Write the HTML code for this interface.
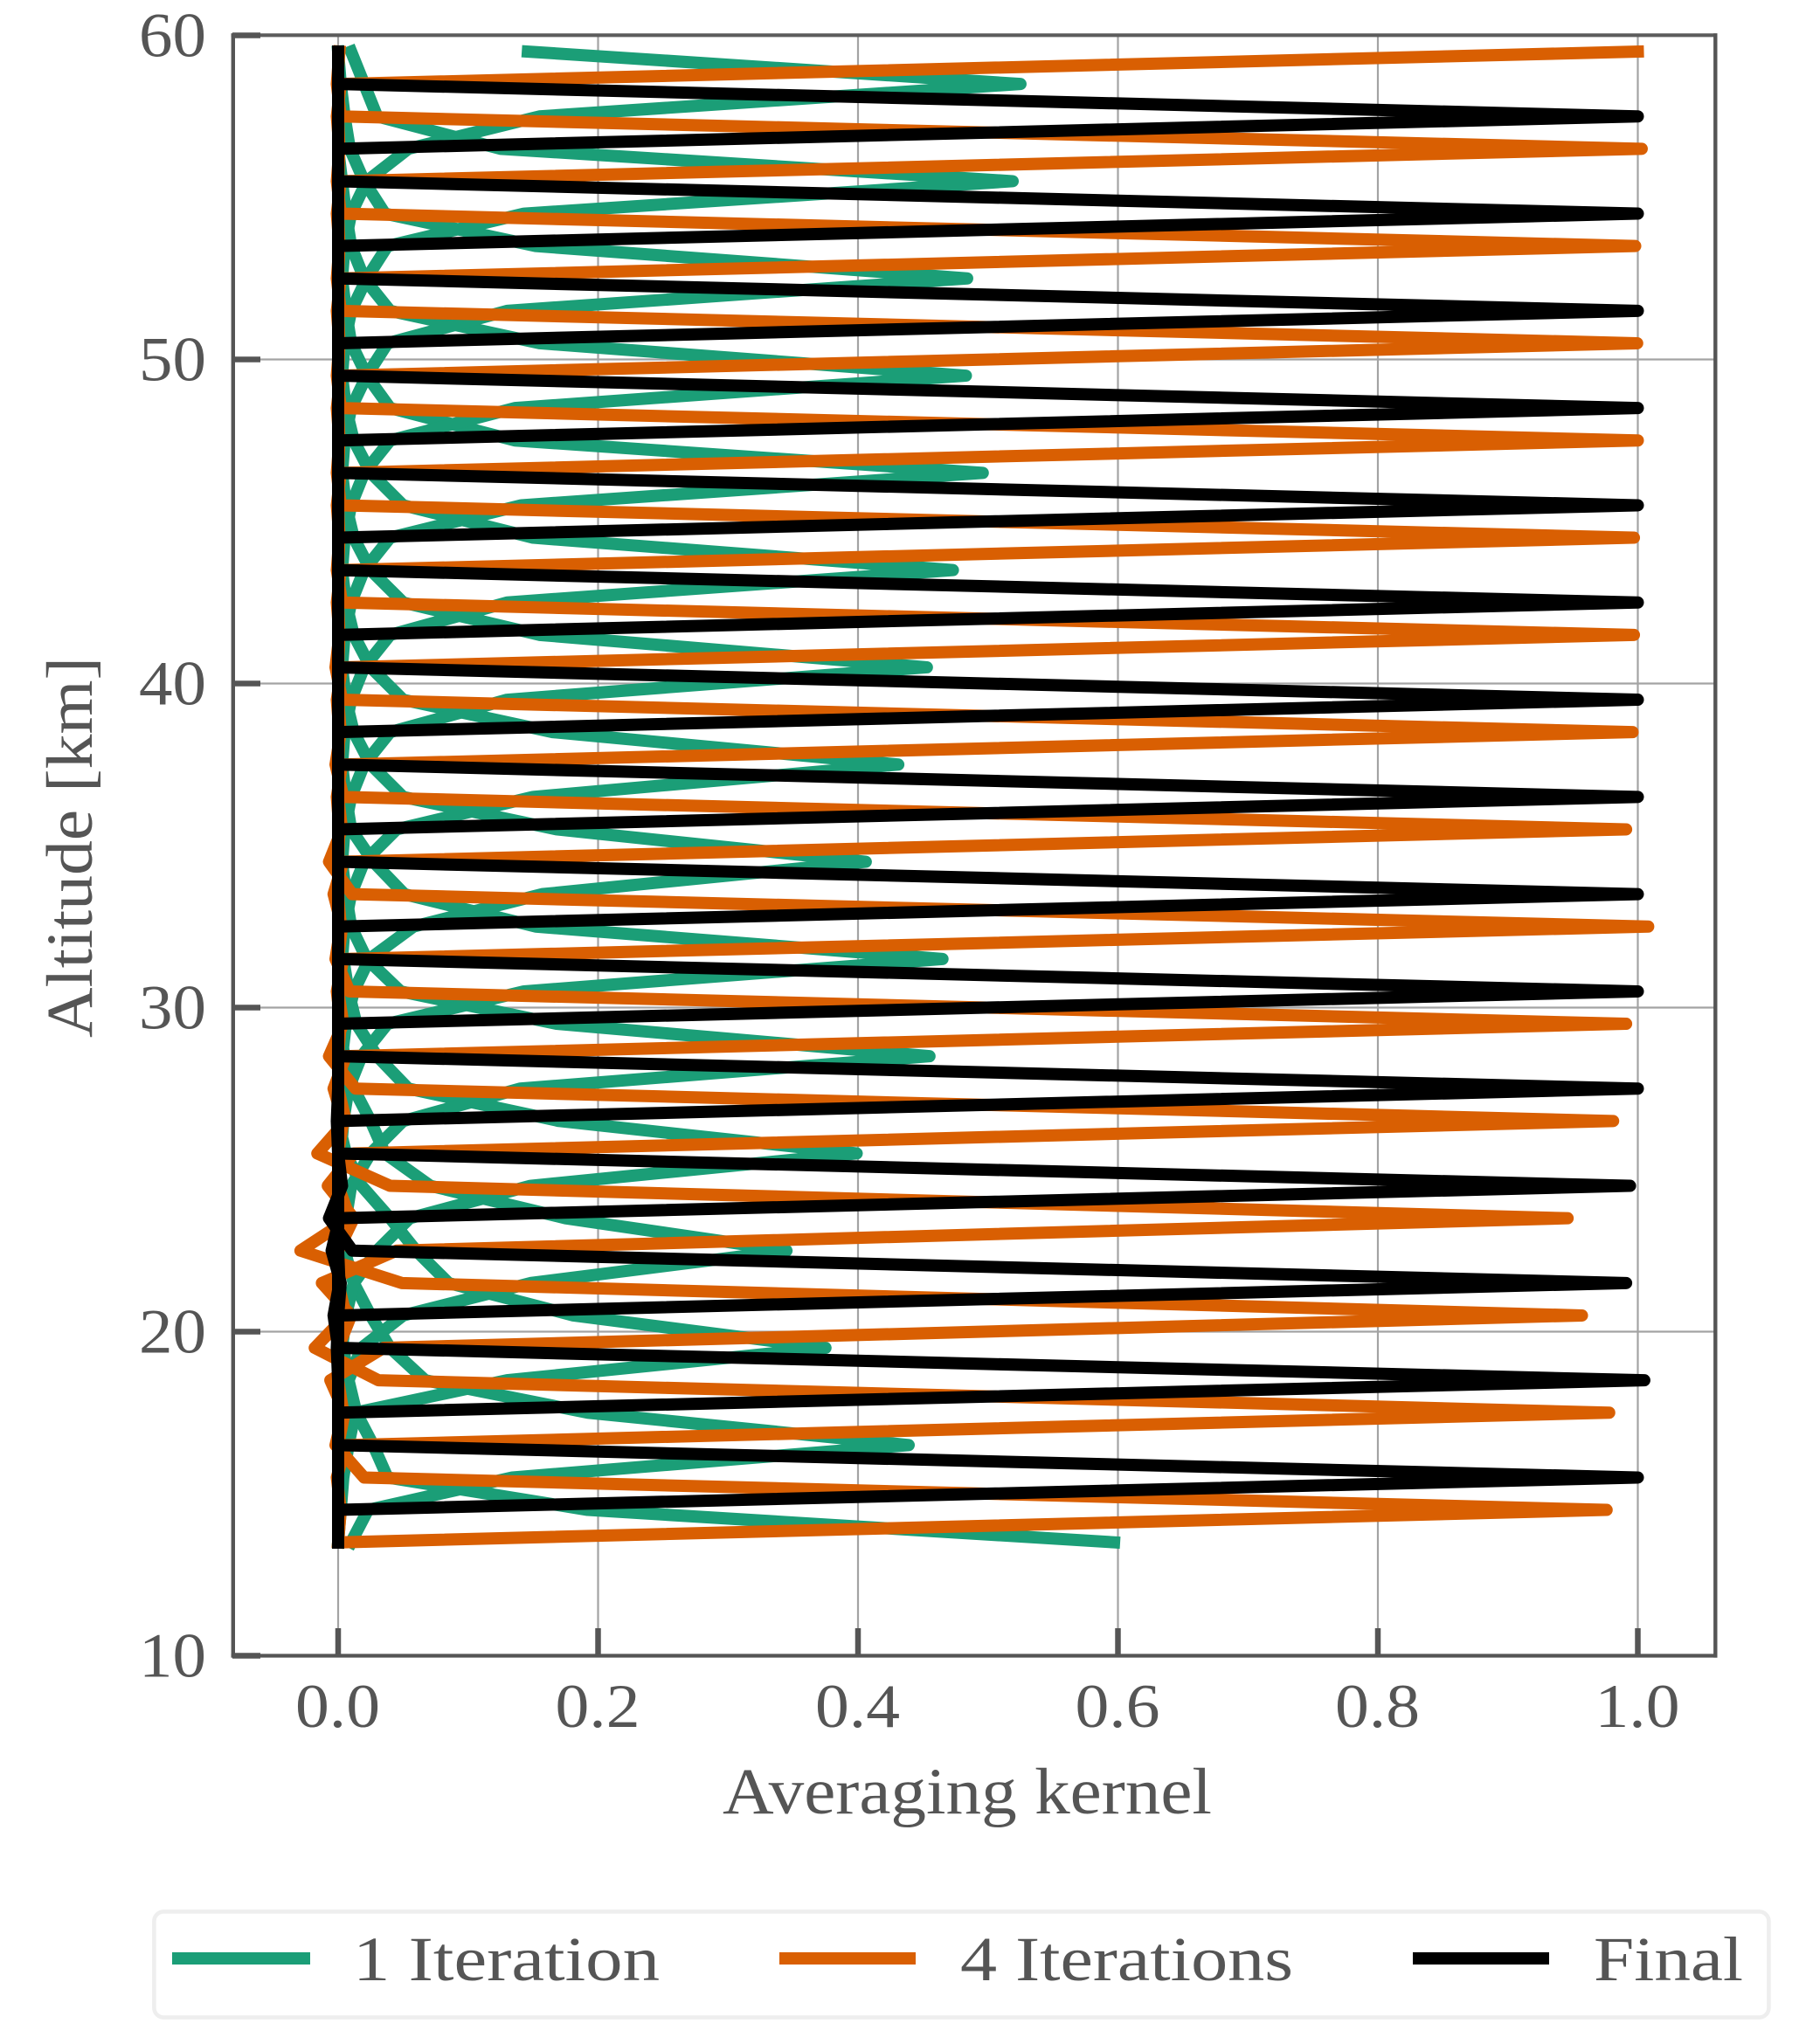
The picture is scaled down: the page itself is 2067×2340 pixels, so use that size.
<!DOCTYPE html>
<html lang="en">
<head>
<meta charset="utf-8">
<title>Averaging kernels</title>
<style>
  html, body { margin: 0; padding: 0; background: #fff; }
  svg { display: block; }
  text { font-family: "Liberation Serif", serif; fill: #555555; }
</style>
</head>
<body>
<svg id="chart" xmlns="http://www.w3.org/2000/svg" width="2067" height="2340" viewBox="0 0 2067 2340">
  <rect x="0" y="0" width="2067" height="2340" fill="#ffffff"/>
  <g id="grid"></g>
  <g id="series"></g>
  <g id="spines">
    <line x1="264.6" y1="40.3" x2="1965.5" y2="40.3" stroke="#5c5c5c" stroke-width="4.2"/>
    <line x1="1963.3" y1="38.2" x2="1963.3" y2="1897.6" stroke="#555555" stroke-width="4.4"/>
    <line x1="264.6" y1="1895.5" x2="1965.5" y2="1895.5" stroke="#555555" stroke-width="4.2"/>
    <line x1="266.8" y1="38.2" x2="266.8" y2="1897.6" stroke="#555555" stroke-width="4.4"/>
  </g>
  <g id="ticks"></g>
  <g id="tick-labels"></g>
  <text x="827" y="2076" font-size="75" textLength="560" lengthAdjust="spacingAndGlyphs">Averaging kernel</text>
  <text transform="translate(105,1188) rotate(-90)" x="0" y="0" font-size="75" textLength="436" lengthAdjust="spacingAndGlyphs">Altitude [km]</text>
  <g>
    <rect x="176.4" y="2188.4" width="1848" height="121.2" rx="11" ry="11" fill="#ffffff" stroke="#eeeeee" stroke-width="4.6"/>
    <g>
      <rect x="197" y="2235" width="158" height="14" fill="#1b9e77"/>
      <text x="404" y="2267" font-size="72" textLength="351" lengthAdjust="spacingAndGlyphs">1 Iteration</text>
    </g>
    <g>
      <rect x="892" y="2235" width="156" height="14" fill="#d95f02"/>
      <text x="1099" y="2267" font-size="72" textLength="381" lengthAdjust="spacingAndGlyphs">4 Iterations</text>
    </g>
    <g>
      <rect x="1617" y="2235" width="156" height="14" fill="#000000"/>
      <text x="1824" y="2267" font-size="72" textLength="171" lengthAdjust="spacingAndGlyphs">Final</text>
    </g>
  </g>
</svg>
<script>
// Axis tick labels
const xTickValues = [0.0, 0.2, 0.4, 0.6, 0.8, 1.0];
const xTickLabels = ["0.0", "0.2", "0.4", "0.6", "0.8", "1.0"];
const yTickValues = [10, 20, 30, 40, 50, 60];
const yTickLabels = ["10", "20", "30", "40", "50", "60"];

// Altitude grid of every kernel [km]
const altitudes = [13.5,14.5,15.5,16.5,17.5,18.5,19.5,20.5,21.5,22.5,23.5,24.5,25.5,26.5,27.5,28.5,29.5,30.5,31.5,32.5,33.5,34.5,35.5,36.5,37.5,38.5,39.5,40.5,41.5,42.5,43.5,44.5,45.5,46.5,47.5,48.5,49.5,50.5,51.5,52.5,53.5,54.5,55.5,56.5,57.5,58.5,59.5];

// 1 iteration: peak altitude of each kernel and values from peak-6 km to peak+6 km
const iter1Peaks = [13.5,16.5,19.5,22.5,25.5,28.5,31.5,34.5,37.5,40.5,43.5,46.5,49.5,52.5,55.5,58.5];
const iter1Values = [
  [0,0,0,0,0,0,0.597,0.192,0.038,0.027,0.014,0.008,0.004],
  [0,0,0,0.01,0.023,0.134,0.439,0.192,0.067,0.04,0.025,0.012,0.005],
  [0,0.002,0.004,0.008,0.013,0.13,0.375,0.181,0.085,0.06,0.04,0.018,0.006],
  [0.003,0.005,0.008,0.018,0.05,0.148,0.345,0.175,0.071,0.036,0.025,0.012,0.005],
  [0.003,0.006,0.012,0.03,0.055,0.148,0.399,0.17,0.054,0.03,0.014,0.008,0.004],
  [0.003,0.006,0.01,0.025,0.05,0.14,0.455,0.168,0.048,0.022,0.01,0.006,0.003],
  [0.002,0.004,0.008,0.018,0.038,0.143,0.465,0.152,0.051,0.027,0.01,0.006,0.003],
  [0.003,0.006,0.012,0.024,0.058,0.157,0.406,0.168,0.05,0.025,0.012,0.006,0.003],
  [0.003,0.005,0.01,0.02,0.045,0.15,0.431,0.165,0.05,0.025,0.012,0.006,0.003],
  [0.003,0.005,0.01,0.02,0.04,0.13,0.453,0.155,0.05,0.025,0.012,0.006,0.003],
  [0.003,0.005,0.01,0.02,0.04,0.13,0.473,0.15,0.05,0.025,0.012,0.006,0.003],
  [0.003,0.005,0.01,0.02,0.04,0.141,0.496,0.136,0.04,0.022,0.01,0.006,0.003],
  [0.003,0.005,0.01,0.02,0.04,0.136,0.483,0.155,0.04,0.02,0.01,0.006,0.003],
  [0.003,0.005,0.01,0.022,0.038,0.13,0.484,0.152,0.036,0.02,0.009,0.005,0.002],
  [0.003,0.005,0.01,0.022,0.038,0.143,0.519,0.125,0.03,0.02,0.01,0,0],
  [0.003,0.005,0.01,0.022,0.054,0.155,0.525,0.146,0,0,0,0,0]
];

// 4 iterations: peak altitude of each kernel and values from peak-3 km to peak+3 km
const iter4Peaks = [14.5,17.5,20.5,23.5,26.5,29.5,32.5,35.5,38.5,41.5,44.5,47.5,50.5,53.5,56.5,59.5];
const iter4Values = [
  [0,0,0.003,0.976,0.02,-0.002,0.004],
  [0.002,-0.001,0.006,0.978,0.031,-0.018,0.006],
  [0.005,-0.006,0.035,0.957,0.049,-0.029,0.009],
  [0.01,-0.0125,0.045,0.946,0.04,-0.016,0.006],
  [0.012,-0.008,0.012,0.981,0.0134,-0.007,0.004],
  [0.004,-0.0035,0.006,0.991,0.0087,-0.002,0.002],
  [0.002,-0.001,0.004,1.008,0.0108,-0.007,0.003],
  [0.003,-0.0035,0.004,0.991,0.004,-0.002,0.002],
  [0.001,-0.001,0.003,0.996,0.003,-0.002,0.001],
  [0.001,-0.001,0.003,0.997,0.003,-0.001,0.001],
  [0.001,-0.001,0.002,0.997,0.002,-0.001,0.001],
  [0.001,-0.001,0.002,1.0,0.002,-0.001,0.001],
  [0.001,-0.001,0.002,0.9995,0.002,-0.001,0.001],
  [0.001,-0.001,0.002,0.998,0.002,-0.001,0.001],
  [0.001,-0.001,0.002,1.003,0.002,-0.001,0.001],
  [0.001,-0.001,0.002,1.0,0,0,0]
];

// Final: peak altitude of each kernel and values from peak-3 km to peak+3 km
const finalPeaks = [15.5,18.5,21.5,24.5,27.5,30.5,33.5,36.5,39.5,42.5,45.5,48.5,51.5,54.5,57.5];
const finalValues = [
  [0,0,0,1.0,0,0,0],
  [0,0,0,1.005,0,-0.0035,0.001],
  [0,-0.001,0,0.991,0.011,-0.007,0.003],
  [0.002,-0.005,0.001,0.994,0,-0.001,0],
  [0,0,0,1.0,0,0,0],
  [0,0,0,1.0,0,0,0],
  [0,0,0,1.0,0,0,0],
  [0,0,0,1.0,0,0,0],
  [0,0,0,1.0,0,0,0],
  [0,0,0,1.0,0,0,0],
  [0,0,0,1.0,0,0,0],
  [0,0,0,1.0,0,0,0],
  [0,0,0,1.0,0,0,0],
  [0,0,0,1.0,0,0,0],
  [0,0,0,1.0,0,0,0]
];

const NS = "http://www.w3.org/2000/svg";
function xScale(v) { return 387 + (v * 1487.5); }
function yScale(a) { return 1895.5 - ((a - 10) * 37.1); }

function profile(peak, values) {
  const half = (values.length - 1) / 2;
  return altitudes.map(function (alt) {
    const idx = Math.round(alt - peak) + half;
    const v = (idx >= 0 && idx < values.length) ? values[idx] : 0;
    return xScale(v).toFixed(2) + "," + yScale(alt).toFixed(2);
  }).join(" ");
}

function drawSeries(peaks, values, color, label) {
  const holder = document.getElementById("series");
  peaks.forEach(function (peak, i) {
    const line = document.createElementNS(NS, "polyline");
    line.setAttribute("points", profile(peak, values[i]));
    line.setAttribute("fill", "none");
    line.setAttribute("stroke", color);
    line.setAttribute("stroke-width", "14");
    line.setAttribute("stroke-linejoin", "round");
    line.setAttribute("stroke-linecap", "square");
    
    
    holder.appendChild(line);
  });
}

function drawAxes() {
  const grid = document.getElementById("grid");
  const ticks = document.getElementById("ticks");
  const labels = document.getElementById("tick-labels");

  xTickValues.forEach(function (v, i) {
    const px = xScale(v);
    const g = document.createElementNS(NS, "line");
    g.setAttribute("x1", px); g.setAttribute("x2", px);
    g.setAttribute("y1", 40); g.setAttribute("y2", 1896);
    g.setAttribute("stroke", "#a3a3a3"); g.setAttribute("stroke-width", "2.2");
    
    
    grid.appendChild(g);

    const t = document.createElementNS(NS, "line");
    t.setAttribute("x1", px); t.setAttribute("x2", px);
    t.setAttribute("y1", 1864); t.setAttribute("y2", 1896);
    t.setAttribute("stroke", "#555555"); t.setAttribute("stroke-width", "6.5");
    
    
    ticks.appendChild(t);

    const l = document.createElementNS(NS, "text");
    l.setAttribute("x", px - 0.5); l.setAttribute("y", 1977);
    l.setAttribute("text-anchor", "middle");
    l.setAttribute("font-size", "71");
    l.setAttribute("textLength", "97");
    l.setAttribute("lengthAdjust", "spacingAndGlyphs");
    l.textContent = xTickLabels[i];
    
    
    labels.appendChild(l);
  });

  yTickValues.forEach(function (a, i) {
    const py = yScale(a);
    const g = document.createElementNS(NS, "line");
    g.setAttribute("x1", 266); g.setAttribute("x2", 1963);
    g.setAttribute("y1", py); g.setAttribute("y2", py);
    g.setAttribute("stroke", "#a3a3a3"); g.setAttribute("stroke-width", "2.2");
    
    
    grid.appendChild(g);

    const t = document.createElementNS(NS, "line");
    t.setAttribute("x1", 266); t.setAttribute("x2", 298);
    t.setAttribute("y1", py); t.setAttribute("y2", py);
    t.setAttribute("stroke", "#555555"); t.setAttribute("stroke-width", "6.5");
    
    
    ticks.appendChild(t);

    const l = document.createElementNS(NS, "text");
    l.setAttribute("x", 236); l.setAttribute("y", py + 24);
    l.setAttribute("text-anchor", "end");
    l.setAttribute("font-size", "72");
    l.setAttribute("textLength", "77");
    l.setAttribute("lengthAdjust", "spacingAndGlyphs");
    l.textContent = yTickLabels[i];
    
    
    labels.appendChild(l);
  });
}

drawAxes();
drawSeries(iter1Peaks, iter1Values, "#1b9e77", "iteration-1");
drawSeries(iter4Peaks, iter4Values, "#d95f02", "iteration-4");
drawSeries(finalPeaks, finalValues, "#000000", "final");
</script>
</body>
</html>
